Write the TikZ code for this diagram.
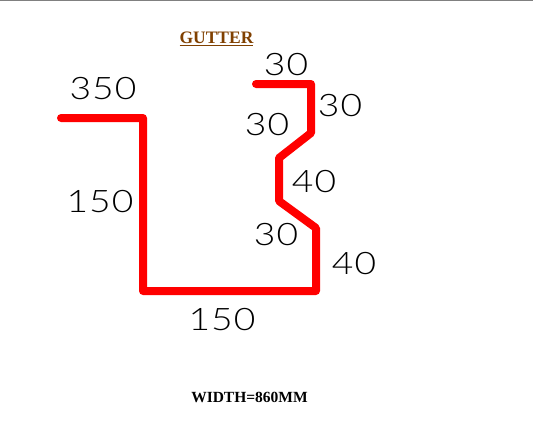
\documentclass[tikz,border=0pt]{standalone}
\usepackage{fontspec}
\setmainfont{Liberation Serif}
\newfontfamily\dimfont[LetterSpace=3]{Lato Light}
\tikzset{
  dimlabel/.style={inner sep=0pt,text=black,font=\dimfont\fontsize{31}{31}\selectfont,xscale=1.2},
  gutterline/.style={draw=red,line width=8pt,line join=round,line cap=round},
  titlelabel/.style={inner sep=0pt,font=\bfseries\fontsize{17.5}{17.5}\selectfont}
}
\begin{document}
\begin{tikzpicture}[x=1pt,y=-1pt]
\useasboundingbox (0,0) rectangle (533,442);
\fill[white] (0,0) rectangle (533,442);
\coordinate (ttl) at (0,0.5);
\coordinate (ttr) at (533,0.5);
\draw[gray,line width=1pt] (ttl) -- (ttr);
\coordinate (p0) at (61,118);
\coordinate (p1) at (143,118);
\coordinate (p2) at (143,291);
\coordinate (p3) at (316,291);
\coordinate (p4) at (316,228);
\coordinate (p5) at (279,201);
\coordinate (p6) at (279,158);
\coordinate (p7) at (311,133);
\coordinate (p8) at (311,84);
\coordinate (p9) at (256,84);
\draw[gutterline] (p0) -- (p1) -- (p2) -- (p3) -- (p4) -- (p5) -- (p6) -- (p7) -- (p8) -- (p9);
\node[titlelabel,text={rgb,255:red,128;green,64;blue,0}] (title) at (216.5,39) {\underline{GUTTER}};
\node[titlelabel,font=\bfseries\fontsize{15.5}{15.5}\selectfont] (width) at (249.5,397) {WIDTH=860MM};
\node[dimlabel] (d1) at (286,65) {30};
\node[dimlabel] (d2) at (340,106) {30};
\node[dimlabel] (d3) at (267,125) {30};
\node[dimlabel] (d4) at (314,182) {40};
\node[dimlabel] (d5) at (276,235) {30};
\node[dimlabel] (d6) at (354,264) {40};
\node[dimlabel] (d7) at (103,89) {350};
\node[dimlabel] (d8) at (100,202) {150};
\node[dimlabel] (d9) at (222,320) {150};
\end{tikzpicture}
\end{document}
